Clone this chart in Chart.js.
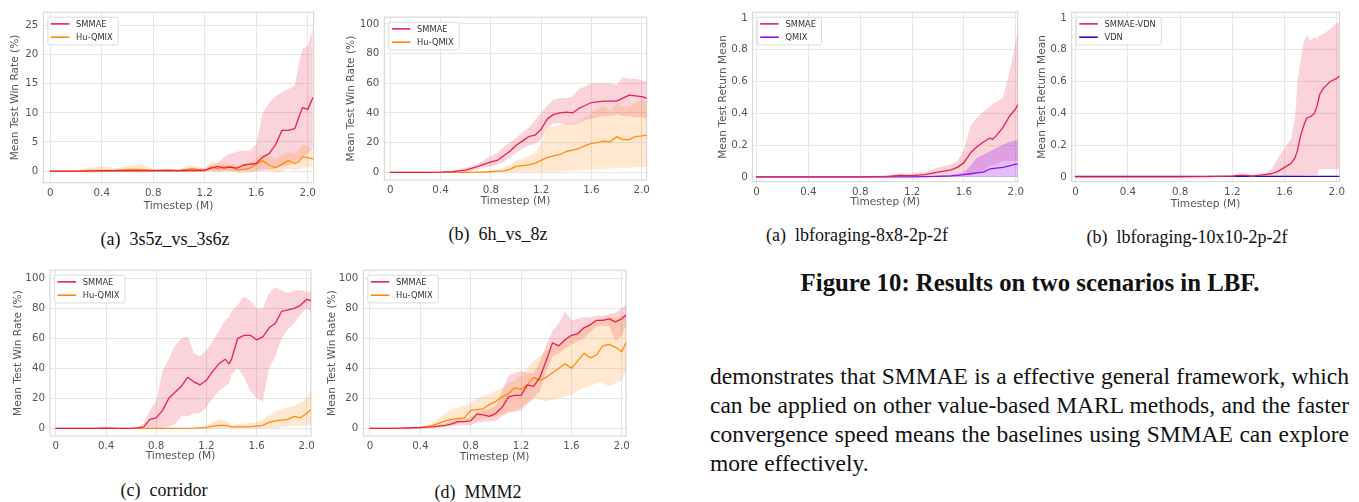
<!DOCTYPE html>
<html><head><meta charset="utf-8">
<script src="https://cdn.jsdelivr.net/npm/chart.js@4.4.1/dist/chart.umd.min.js"></script>
<style>
html,body{margin:0;padding:0;background:#fff}
body{width:1359px;height:502px;position:relative;overflow:hidden}
canvas{position:absolute}
.cap{position:absolute;font-family:'Liberation Serif',serif;font-size:18px;line-height:18px;white-space:nowrap;color:#111;transform:translateX(-50%)}
.cap .sp{display:inline-block;width:9px}
.ttl{position:absolute;left:700px;width:660px;text-align:center;font-family:'Liberation Serif',serif;font-weight:bold;font-size:24.8px;line-height:29px;color:#111;white-space:nowrap}
.pl{position:absolute;left:710px;width:639px;font-family:'Liberation Serif',serif;font-size:23.5px;line-height:29px;color:#111;white-space:nowrap;text-align:justify;text-align-last:justify}
.pl.last{text-align:left;text-align-last:left}
</style></head>
<body>
<canvas id="cA"></canvas><canvas id="cB"></canvas><canvas id="cC"></canvas><canvas id="cD"></canvas><canvas id="cE"></canvas><canvas id="cF"></canvas>
<div class="cap" style="left:165px;top:230px">(a)<span class="sp"></span>3s5z_vs_3s6z</div>
<div class="cap" style="left:498px;top:225px">(b)<span class="sp"></span>6h_vs_8z</div>
<div class="cap" style="left:164px;top:481px">(c)<span class="sp"></span>corridor</div>
<div class="cap" style="left:478px;top:483px">(d)<span class="sp"></span>MMM2</div>
<div class="cap" style="left:857px;top:226px">(a)<span class="sp"></span>lbforaging-8x8-2p-2f</div>
<div class="cap" style="left:1187px;top:228px">(b)<span class="sp"></span>lbforaging-10x10-2p-2f</div>
<div class="ttl" style="top:268px">Figure 10: Results on two scenarios in LBF.</div>
<div class="pl" style="top:362px">demonstrates that SMMAE is a effective general framework, which</div>
<div class="pl" style="top:391px">can be applied on other value-based MARL methods, and the faster</div>
<div class="pl" style="top:420px">convergence speed means the baselines using SMMAE can explore</div>
<div class="pl last" style="top:449px">more effectively.</div>
<script>
// ---------- tick definitions ----------
const xTickVals = [0, 0.4, 0.8, 1.2, 1.6, 2.0];
const xTickLabels = ['0', '0.4', '0.8', '1.2', '1.6', '2.0'];
const yTicks25 = [0, 5, 10, 15, 20, 25];
const yLabels25 = ['0', '5', '10', '15', '20', '25'];
const yTicks100 = [0, 20, 40, 60, 80, 100];
const yLabels100 = ['0', '20', '40', '60', '80', '100'];
const yTicksRet = [0, 0.2, 0.4, 0.6, 0.8, 1];
const yLabelsRet = ['0', '0.2', '0.4', '0.6', '0.8', '1'];

// ---------- (a) 3s5z_vs_3s6z ----------
const xA = [0,0.1,0.2,0.3,0.4,0.5,0.6,0.7,0.8,0.9,1.0,1.1,1.2,1.25,1.3,1.35,1.4,1.45,1.5,1.55,1.6,1.65,1.7,1.75,1.8,1.85,1.9,1.93,1.96,2.0,2.04];
const smmaeA   = [0,0,0,0,0.05,0.05,0.05,0.05,0.05,0.05,0.05,0.1,0.1,0.5,0.8,0.5,0.7,0.5,1.0,1.2,1.3,2.4,3.0,4.5,7.0,7.0,7.3,9.2,10.9,10.6,12.6];
const smmaeAHi = [0,0,0,0,0.1,0.1,0.1,0.1,0.1,0.1,0.1,0.2,0.5,1.0,1.3,2.4,3.0,3.3,3.5,3.5,4.6,10.0,11.7,12.8,13.6,14.1,14.7,18.5,21.0,21.5,24.5];
const smmaeALo = [0,0,0,0,0,0,0,0,0,0,0,0,0,0,0,0,0,0,0,0,0,0,0.2,0.5,0.8,1.0,1.5,2.0,2.5,3.0,4.0];
const huA   = [0,0,0,0.1,0.1,0.1,0.3,0.3,0.1,0.2,0.1,0.4,0.1,0.7,0.4,0.7,0.7,0.2,0.3,0.5,1.2,1.8,1.0,0.6,1.2,1.8,1.3,1.6,2.5,2.3,2.1];
const huAHi = [0,0,0,0.6,0.8,0.5,0.8,1.2,0.3,0.4,0.3,1.0,0.4,1.7,1.5,1.3,1.3,1.0,1.2,1.5,2.2,3.0,2.5,2.0,2.8,3.3,3.0,3.5,4.5,4.2,3.5];
const huALo = [0,0,0,-0.3,-0.3,-0.2,-0.2,-0.3,-0.1,0,-0.1,-0.2,-0.1,0,-0.3,0,0,-0.3,-0.4,-0.3,0,0.5,0,-0.3,0,0.4,0.2,0.3,0.5,0.6,0.7];

// ---------- (b) 6h_vs_8z ----------
const xB = [0,0.1,0.2,0.3,0.4,0.5,0.6,0.7,0.75,0.8,0.85,0.9,0.95,1.0,1.05,1.1,1.15,1.2,1.25,1.3,1.35,1.4,1.45,1.5,1.55,1.6,1.65,1.7,1.75,1.8,1.85,1.9,1.95,2.0,2.04];
const smmaeB   = [0,0,0,0,0.1,0.5,1.5,4,5.5,7,8,11,14,18,21,24,25,29,36,39,40,40.5,40,43,45,47,47.5,48,48,48,50,52,51.5,51,50];
const smmaeBHi = [0,0,0,0,0.3,1,3,6,8.5,11,13,17,20,23,27,30,35,40,45,49,50,50,51,56,58,60,60,60,60,59,64,63,63,62,61];
const smmaeBLo = [0,0,0,0,0,0,0,2,3,4,5,7,10,13,16,18,19,22,30,33,33,32,32,33,35,36,37,38,38,39,38,38,37,37,36];
const huB   = [0,0,0,0,0,0,0,0.1,0.2,0.5,0.8,1,2,4,4.5,5,6,8,10,11,12,14,15,16,18,19.5,20,21,20.5,24,22,22,24,24.5,25];
const huBHi = [0,0,0,0,0,0,0,0.3,0.5,1,2,3,5,8,9,11,13,19,30,31,32,33,33,34,37,40,43,45,41,47,44,44,47,48,48];
const huBLo = [0,0,0,0,0,0,0,0,0,0,0,0,0,0,0,0,0,0,0,0,0.5,1,1,1,1.5,2,2,2,2.5,3,3,3,3.5,3.5,3.5];

// ---------- (c) corridor ----------
const xC = [0,0.1,0.2,0.3,0.4,0.5,0.6,0.65,0.7,0.75,0.8,0.85,0.9,0.95,1.0,1.05,1.1,1.15,1.2,1.25,1.3,1.35,1.38,1.4,1.45,1.5,1.55,1.6,1.65,1.7,1.75,1.8,1.85,1.9,1.95,2.0,2.04];
const smmaeC   = [0,0,0,0,0.2,0,0,0.3,1,6,7,12,20,24,28,34,31,29,32,38,43,46,43,46,60,62,62,59,61,67,70,78,79,80,82,86,85];
const smmaeCHi = [0,0,0,0,0.8,0.3,0.2,0.5,3,12,18,38,46,55,60,61,50,48,52,58,65,72,74,78,82,88,85,80,80,90,94,92,90,92,92,91,91];
const smmaeCLo = [0,0,0,0,0,0,0,0,0,0,0,0,1,3,8,8,10,10,14,20,25,28,30,36,40,34,25,20,18,40,48,60,66,70,76,80,77];
const huC   = [0,0,0,0,0,0,0,0,0,0,0,0,0,0,0,0,0.1,0.3,0.5,1.5,2,2,1.5,1,1,1,1.2,1.5,2,4,5,5.5,6,8,7,10,13];
const huCHi = [0,0,0,0,0,0,0,0,0,0,0,0,0,0,0,0,0.3,1,2,4,6,5,4,2,3,3,3.5,4,6,9,11,13,14,15,17,20,27];
const huCLo = [0,0,0,0,0,0,0,0,0,0,0,0,0,0,0,0,0,0,0,0,0,0,0,0,0,0,0,0,0,0,0,1,1,1.5,1.5,2,3];

// ---------- (d) MMM2 ----------
const xD = [0,0.1,0.2,0.3,0.35,0.4,0.45,0.5,0.55,0.6,0.65,0.7,0.75,0.8,0.85,0.9,0.95,1.0,1.05,1.1,1.15,1.2,1.25,1.3,1.35,1.4,1.45,1.5,1.55,1.6,1.65,1.7,1.75,1.8,1.85,1.9,1.95,2.0,2.04];
const smmaeD   = [0,0,0,0.3,0.5,0.5,0.8,1,1.5,2,3,4.5,4.5,5,9.5,9,8,10,14,21,22,22,29,28,34,45,57,55,59,62,63,67,69,72,72,73,71,73,76];
const smmaeDHi = [0,0,0.3,0.8,1,1,1.5,2,2.5,3,5,6,6.5,7,11,12,13,15,25,35,37,38,37,37,45,55,65,70,78,72,73,74,74,75,75,76,77,80,83];
const smmaeDLo = [0,0,0,0,0,0,0.2,0.5,0.8,1,1.5,2,2,2,4,4,4.5,5,8,11,11,12,16,20,25,38,48,50,53,56,58,60,64,68,68,68,58,62,70];
const huD   = [0,0,0,0,0.2,0.5,1,2,3.5,5,6,6.5,7,12,12.5,13,16,18,21,23,27,26,29,34,32,34,37,40,43,40,45,50,47,49,55,56,54,51,58];
const huDHi = [0,0,0,0,0.5,1,2,4,7,10,13,14,15,17,20,22,23,25,27,30,32,35,40,45,48,52,54,56,60,62,65,68,70,72,73,74,74,75,75];
const huDLo = [0,0,0,0,0,0,0.2,0.5,1,2,2.5,3,4,5,5.5,6,7,8,9,10,12,14,17,20,19,18,19,20,21,22,25,27,28,30,30,28,30,32,38];

// ---------- LBF (a) lbforaging-8x8-2p-2f ----------
const xE = [0,0.2,0.4,0.6,0.8,1.0,1.1,1.2,1.3,1.4,1.5,1.55,1.6,1.65,1.7,1.75,1.8,1.82,1.85,1.9,1.95,2.0,2.02];
const smmaeE   = [0,0,0,0,0,0.002,0.01,0.008,0.015,0.03,0.045,0.06,0.09,0.15,0.19,0.22,0.245,0.235,0.26,0.31,0.38,0.43,0.46];
const smmaeEHi = [0,0,0,0.005,0.005,0.01,0.02,0.02,0.03,0.06,0.08,0.1,0.17,0.32,0.37,0.41,0.44,0.46,0.47,0.5,0.65,0.85,0.93];
const smmaeELo = [0,0,0,0,0,0,0,0,0,0,0.005,0.01,0.01,0.01,0.02,0.04,0.07,0.07,0.08,0.1,0.1,0.1,0.1];
const qmixE   = [0,0,0,0,0,0,0,0,0.002,0.004,0.006,0.01,0.015,0.02,0.025,0.03,0.05,0.052,0.055,0.06,0.07,0.08,0.08];
const qmixEHi = [0,0,0,0,0,0,0,0,0.004,0.008,0.012,0.02,0.03,0.07,0.12,0.14,0.16,0.17,0.18,0.2,0.22,0.23,0.23];
const qmixELo = [0,0,0,0,0,0,0,0,0,0,0,0,0,0,0,0,0,0,0,0,0,0,0];

// ---------- LBF (b) lbforaging-10x10-2p-2f ----------
const xF = [0,0.2,0.4,0.6,0.8,1.0,1.2,1.25,1.3,1.35,1.4,1.45,1.5,1.55,1.6,1.65,1.68,1.7,1.72,1.75,1.77,1.8,1.83,1.85,1.87,1.9,1.95,2.0,2.02];
const smmaeF   = [0,0,0,0,0,0.002,0.005,0.01,0.01,0.005,0.01,0.015,0.02,0.035,0.06,0.085,0.12,0.17,0.25,0.33,0.37,0.38,0.4,0.45,0.52,0.56,0.6,0.62,0.635];
const smmaeFHi = [0,0,0,0,0,0.005,0.01,0.02,0.02,0.015,0.02,0.025,0.05,0.12,0.18,0.24,0.38,0.6,0.72,0.86,0.89,0.86,0.88,0.87,0.89,0.9,0.93,0.97,0.97];
const smmaeFLo = [0,0,0,0,0,0,0,0,0,0,0,0,0,0,0,0,0,0,0,0.01,0.01,0.01,0.01,0.01,0.05,0.05,0.05,0.05,0.05];
const vdnF   = [0.003,0.003,0.003,0.003,0.003,0.003,0.003,0.003,0.003,0.003,0.003,0.003,0.003,0.003,0.003,0.003,0.003,0.003,0.003,0.003,0.003,0.003,0.003,0.003,0.003,0.003,0.003,0.003,0.003];
const vdnFHi = [0.006,0.006,0.006,0.006,0.006,0.006,0.006,0.006,0.006,0.006,0.006,0.006,0.006,0.006,0.006,0.006,0.006,0.006,0.006,0.006,0.006,0.006,0.006,0.006,0.006,0.006,0.006,0.006,0.006];
const vdnFLo = [0,0,0,0,0,0,0,0,0,0,0,0,0,0,0,0,0,0,0,0,0,0,0,0,0,0,0,0,0];

// ---------- colours ----------
const RED = '#E8234B', ORANGE = '#FF8A0D', PURPLE = '#9010F5', BLUE = '#1515D0';
const RED_F = 'rgba(232,35,75,0.2)', ORANGE_F = 'rgba(255,138,13,0.2)', PURPLE_F = 'rgba(150,20,245,0.28)', BLUE_F = 'rgba(21,21,208,0.2)';

Chart.defaults.font.family = "'DejaVu Sans'";
Chart.defaults.animation = false;

const pts = (xs, ys) => xs.map((x, i) => ({x: x, y: ys[i]}));

function bandSets(xs, lo, hi, fillCol, order) {
  return [
    {label: '', data: pts(xs, hi), fill: '+1', backgroundColor: fillCol, borderWidth: 0, pointRadius: 0, order: order},
    {label: '', data: pts(xs, lo), fill: false, borderWidth: 0, pointRadius: 0, order: order}
  ];
}
function lineSet(label, xs, ys, col, order) {
  return {label: label, data: pts(xs, ys), borderColor: col, borderWidth: 1.3, pointRadius: 0, fill: false, tension: 0, order: order, inLegend: true};
}

const framePlugin = {
  id: 'frame',
  beforeDatasetsDraw(chart) {
    const a = chart.chartArea, c = chart.ctx;
    c.save(); c.strokeStyle = '#d2d2d2'; c.lineWidth = 1;
    c.strokeRect(a.left, a.top, a.right - a.left, a.bottom - a.top);
    c.restore();
  }
};
const legendPlugin = {
  id: 'boxLegend',
  afterDatasetsDraw(chart) {
    const a = chart.chartArea, c = chart.ctx;
    const items = chart.data.datasets.filter(d => d.inLegend).sort((p, q) => p.legendIdx - q.legendIdx);
    c.save();
    c.font = "8.3px 'DejaVu Sans'";
    const tw = Math.max(...items.map(d => c.measureText(d.label).width));
    const bx = a.left + 4.5, by = a.top + 5, w = 28.3 + tw + 5.5, h = 27.7;
    c.fillStyle = 'rgba(255,255,255,0.85)';
    c.strokeStyle = '#dadada'; c.lineWidth = 1;
    c.beginPath(); c.roundRect(bx, by, w, h, 2); c.fill(); c.stroke();
    items.forEach((d, i) => {
      const y = by + 6.7 + i * 13.3;
      c.strokeStyle = d.borderColor; c.lineWidth = 1.6;
      c.beginPath(); c.moveTo(bx + 3, y); c.lineTo(bx + 21.6, y); c.stroke();
      c.fillStyle = '#333'; c.textBaseline = 'middle'; c.textAlign = 'left';
      c.fillText(d.label, bx + 28.3, y + 0.5);
    });
    c.restore();
  }
};

function makeChart(id, frame, ytc, xtc, xr, yr, yTickVals, yTickLabels, yTitle, datasets) {
  const lh = 10.6 * 1.2;
  const L = Math.floor(ytc - lh / 2 - 1), T = Math.floor(frame.t - 4);
  const R = Math.ceil(frame.r + 4), B = Math.ceil(xtc + lh / 2 + 1);
  const cv = document.getElementById(id);
  cv.style.left = L + 'px'; cv.style.top = T + 'px';
  cv.width = R - L; cv.height = B - T;
  cv.style.width = (R - L) + 'px'; cv.style.height = (B - T) + 'px';
  const padLeft = (ytc - lh / 2) - L;
  const yw = frame.l - (ytc - lh / 2);
  const xh = (xtc + lh / 2) - frame.b;
  const padBottom = B - (xtc + lh / 2);
  const tickFont = {family: "'DejaVu Sans'", size: 10.3};
  const titleFont = {family: "'DejaVu Sans'", size: 10.6, lineHeight: 1.2};
  return new Chart(cv, {
    type: 'line',
    data: {datasets: datasets},
    options: {
      responsive: false, animation: false, devicePixelRatio: 1,
      layout: {padding: {left: padLeft, top: frame.t - T, right: R - frame.r, bottom: padBottom}},
      plugins: {legend: {display: false}, tooltip: {enabled: false}},
      elements: {line: {borderCapStyle: 'round', borderJoinStyle: 'round'}},
      scales: {
        x: {
          type: 'linear', min: xr[0], max: xr[1],
          afterBuildTicks: s => { s.ticks = xTickVals.map(v => ({value: v})); },
          afterFit: s => { s.height = xh; },
          ticks: {autoSkip: false, maxRotation: 0, padding: 4, color: '#555', font: tickFont,
                  callback: (v) => xTickLabels[xTickVals.indexOf(v)]},
          grid: {color: '#e6e6e6', lineWidth: 1, drawTicks: false},
          border: {display: false},
          title: {display: true, text: 'Timestep (M)', color: '#555', font: titleFont, padding: 0}
        },
        y: {
          type: 'linear', min: yr[0], max: yr[1],
          afterBuildTicks: s => { s.ticks = yTickVals.map(v => ({value: v})); },
          afterFit: s => { s.width = yw; },
          ticks: {autoSkip: false, padding: 5, color: '#555', font: tickFont,
                  callback: (v) => yTickLabels[yTickVals.indexOf(v)]},
          grid: {color: '#e6e6e6', lineWidth: 1, drawTicks: false},
          border: {display: false},
          title: {display: true, text: yTitle, color: '#555', font: titleFont, padding: 0}
        }
      }
    },
    plugins: [framePlugin, legendPlugin]
  });
}

function smacSets(xs, s, sLo, sHi, h, hLo, hHi, lab1, lab2, c1, c2, f1, f2) {
  const a = lineSet(lab1, xs, s, c1, 1); a.legendIdx = 0;
  const b = lineSet(lab2, xs, h, c2, 2); b.legendIdx = 1;
  return [...bandSets(xs, sLo, sHi, f1, 5), ...bandSets(xs, hLo, hHi, f2, 4), b, a];
}

const WIN = 'Mean Test Win Rate (%)', RET = 'Mean Test Return Mean';

makeChart('cA', {l: 43.3, t: 5, r: 316, b: 182.7}, 15, 206, [-0.054, 2.046], [-2, 27.3], yTicks25, yLabels25, WIN,
  smacSets(xA, smmaeA, smmaeALo, smmaeAHi, huA, huALo, huAHi, 'SMMAE', 'Hu-QMIX', RED, ORANGE, RED_F, ORANGE_F));
makeChart('cB', {l: 384.3, t: 10, r: 649.3, b: 180}, 351, 201.7, [-0.047, 2.04], [-5.2, 104.5], yTicks100, yLabels100, WIN,
  smacSets(xB, smmaeB, smmaeBLo, smmaeBHi, huB, huBLo, huBHi, 'SMMAE', 'Hu-QMIX', RED, ORANGE, RED_F, ORANGE_F));
makeChart('cC', {l: 50, t: 263.3, r: 314.3, b: 436}, 18, 456.7, [-0.047, 2.034], [-5.1, 105.4], yTicks100, yLabels100, WIN,
  smacSets(xC, smmaeC, smmaeCLo, smmaeCHi, huC, huCLo, huCHi, 'SMMAE', 'Hu-QMIX', RED, ORANGE, RED_F, ORANGE_F));
makeChart('cD', {l: 363.3, t: 263.3, r: 629.3, b: 436}, 332, 457.7, [-0.053, 2.034], [-5.1, 105.4], yTicks100, yLabels100, WIN,
  smacSets(xD, smmaeD, smmaeDLo, smmaeDHi, huD, huDLo, huDHi, 'SMMAE', 'Hu-QMIX', RED, ORANGE, RED_F, ORANGE_F));
makeChart('cE', {l: 752.7, t: 5, r: 1023.3, b: 181.7}, 723, 202.7, [-0.03, 2.015], [-0.03, 1.036], yTicksRet, yLabelsRet, RET,
  smacSets(xE, smmaeE, smmaeELo, smmaeEHi, qmixE, qmixELo, qmixEHi, 'SMMAE', 'QMIX', RED, PURPLE, RED_F, PURPLE_F));
makeChart('cF', {l: 1071.7, t: 5, r: 1344.3, b: 181.7}, 1042, 204, [-0.03, 2.02], [-0.03, 1.036], yTicksRet, yLabelsRet, RET,
  smacSets(xF, smmaeF, smmaeFLo, smmaeFHi, vdnF, vdnFLo, vdnFHi, 'SMMAE-VDN', 'VDN', RED, BLUE, RED_F, BLUE_F));
</script>
</body></html>
